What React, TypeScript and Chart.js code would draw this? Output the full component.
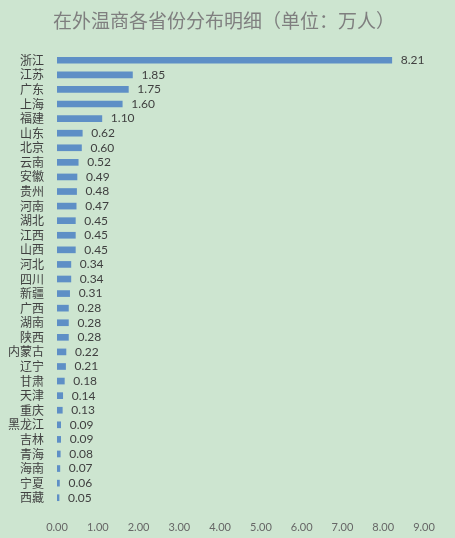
import React, { useEffect, useRef } from "react";
import { Chart, registerables } from "chart.js";

Chart.register(...registerables);

const provinces = [
  "浙江", "江苏", "广东", "上海", "福建", "山东", "北京", "云南", "安徽", "贵州",
  "河南", "湖北", "江西", "山西", "河北", "四川", "新疆", "广西", "湖南", "陕西",
  "内蒙古", "辽宁", "甘肃", "天津", "重庆", "黑龙江", "吉林", "青海", "海南", "宁夏", "西藏",
];
const values = [
  8.21, 1.85, 1.75, 1.6, 1.1, 0.62, 0.6, 0.52, 0.49, 0.48,
  0.47, 0.45, 0.45, 0.45, 0.34, 0.34, 0.31, 0.28, 0.28, 0.28,
  0.22, 0.21, 0.18, 0.14, 0.13, 0.09, 0.09, 0.08, 0.07, 0.06, 0.05,
];
const titleText = "在外温商各省份分布明细（单位：万人）";
const xMin = 0;
const xMax = 9;
const xStep = 1;

const CJK = "'Noto Sans CJK SC', 'Noto Sans', sans-serif";
const NUM = "Lato, 'Open Sans', 'Noto Sans CJK SC', sans-serif";

const valueLabels = {
  id: "valueLabels",
  afterDatasetsDraw(chart: any) {
    const ctx = chart.ctx;
    const meta = chart.getDatasetMeta(0);
    ctx.save();
    ctx.font = `12px ${NUM}`;
    ctx.fillStyle = "#404040";
    ctx.textAlign = "left";
    ctx.textBaseline = "middle";
    meta.data.forEach((bar: any, i: number) => {
      ctx.fillText(values[i].toFixed(2), bar.x + 9, bar.y);
    });
    ctx.restore();
  },
};

const titleDraw = {
  id: "titleDraw",
  afterDraw(chart: any) {
    const ctx = chart.ctx;
    ctx.save();
    ctx.font = `19px ${CJK}`;
    ctx.fillStyle = "#7F7F7F";
    ctx.textAlign = "center";
    ctx.textBaseline = "middle";
    ctx.fillText(titleText, 224, 21);
    ctx.restore();
  },
};

export default function App() {
  const ref = useRef<HTMLCanvasElement>(null);
  useEffect(() => {
    document.body.style.margin = "0";
    const chart = new Chart(ref.current!, {
      type: "bar",
      data: {
        labels: provinces,
        datasets: [
          {
            data: values,
            backgroundColor: "#5E8FC6",
            barThickness: 6,
          },
        ],
      },
      options: {
        indexAxis: "y",
        animation: false,
        responsive: false,
        maintainAspectRatio: false,
        layout: { padding: { left: 0, right: 31, top: 53, bottom: 0 } },
        plugins: {
          legend: { display: false },
          tooltip: { enabled: false },
          title: { display: false },
        },
        scales: {
          x: {
            min: xMin,
            max: xMax,
            ticks: {
              stepSize: xStep,
              color: "#666666",
              font: { family: NUM, size: 11 },
              padding: 8,
              callback: (v: any) => Number(v).toFixed(2),
            },
            grid: { display: false },
            border: { display: false },
            afterFit: (s: any) => {
              s.height = 33;
            },
          },
          y: {
            ticks: {
              color: "#404040",
              font: { family: CJK, size: 12 },
              padding: 5,
              autoSkip: false,
            },
            grid: { display: false },
            border: { display: false },
            afterFit: (s: any) => {
              s.width = 57;
            },
          },
        },
      },
      plugins: [valueLabels, titleDraw],
    });
    return () => chart.destroy();
  }, []);
  return (
    <div style={{ width: 455, height: 538, background: "#CDE5D0" }}>
      <canvas ref={ref} width={455} height={538} />
    </div>
  );
}
